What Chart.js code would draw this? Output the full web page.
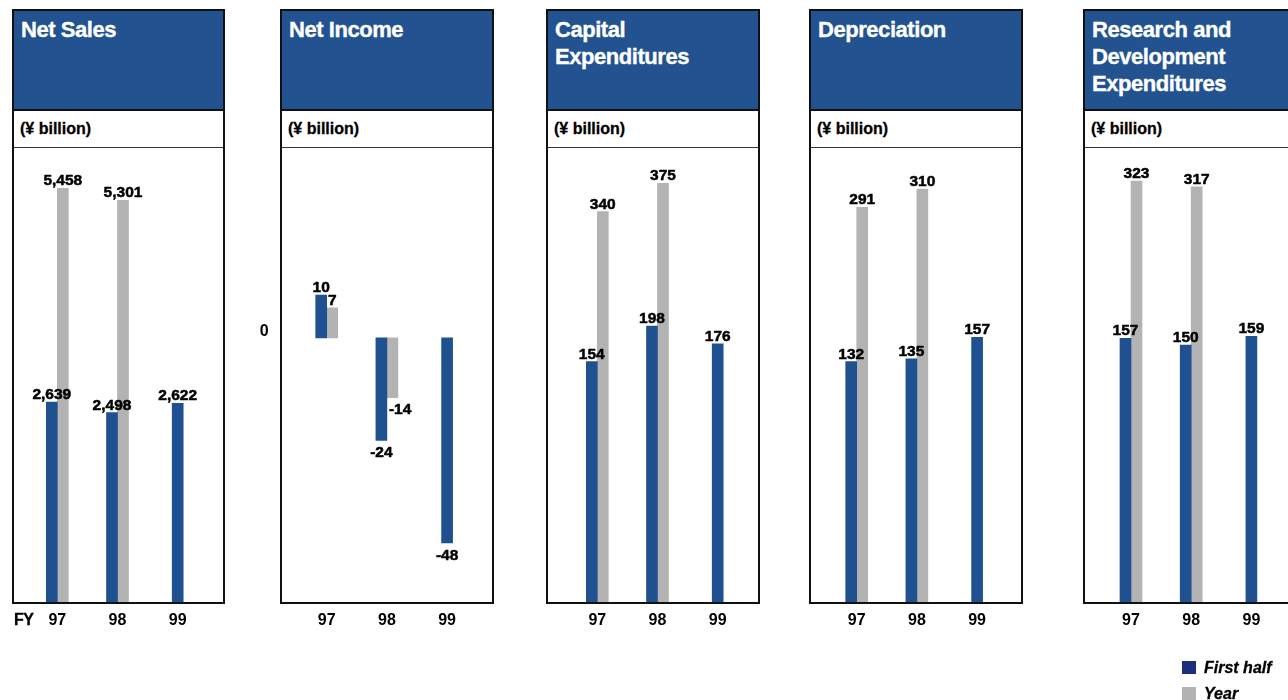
<!DOCTYPE html>
<html>
<head>
<meta charset="utf-8">
<script src="https://cdn.jsdelivr.net/npm/chart.js@4.4.1/dist/chart.umd.min.js"></script>
<style>
html,body{margin:0;padding:0;background:#fff;width:1288px;height:700px;overflow:hidden;position:relative;font-family:"Liberation Sans",Arial,sans-serif;}
.panel{position:absolute;top:9px;height:595px;box-sizing:border-box;border:2px solid #111;background:#fff;}
.head{height:93px;padding:5px 0 0 7px;background:#22528f;color:#fff;font-weight:bold;font-size:22px;letter-spacing:-0.45px;line-height:27px;border-bottom:2px solid #111;white-space:nowrap;overflow:hidden;-webkit-text-stroke:0.35px #fff;}
.sub{height:36px;line-height:36px;padding-left:6px;font-weight:bold;font-size:16px;color:#000;border-bottom:1px solid #333;-webkit-text-stroke:0.3px #000;}
.cv{position:absolute;top:148px;}
#fy{position:absolute;left:14px;top:610px;line-height:20px;font-weight:bold;font-size:16px;color:#000;letter-spacing:-0.5px;-webkit-text-stroke:0.3px #000;}
.leg{position:absolute;left:1182px;font-weight:bold;font-style:italic;font-size:16px;color:#000;line-height:20px;-webkit-text-stroke:0.3px #000;}
.leg span{position:absolute;left:0;top:3px;width:14px;height:13px;}
.leg b{position:absolute;left:22px;top:0;white-space:nowrap;}
</style>
</head>
<body>
<div id="root"></div>
<div id="fy">FY</div>
<div class="leg" style="top:658px"><span style="background:#1b2f7e"></span><b id="lg0"></b></div>
<div class="leg" style="top:684px"><span style="background:#b3b3b3"></span><b id="lg1"></b></div>
<script>
// ---- data ----
const fiscalYears = ['97', '98', '99'];
const seriesNames = ['First half', 'Year'];
const unitLabel = '(¥ billion)';
const panelTitles = ['Net Sales', 'Net Income', 'Capital<br>Expenditures', 'Depreciation', 'Research and<br>Development<br>Expenditures'];
const netSalesFirstHalf = [2639, 2498, 2622];
const netSalesYear = [5458, 5301, null];
const netIncomeFirstHalf = [10, -24, -48];
const netIncomeYear = [7, -14, null];
const capexFirstHalf = [154, 198, 176];
const capexYear = [340, 375, null];
const depreciationFirstHalf = [132, 135, 157];
const depreciationYear = [291, 310, null];
const rdFirstHalf = [157, 150, 159];
const rdYear = [323, 317, null];
const netIncomeYTicks = [0];

// ---- styling / layout ----
const BLUE = '#1f5191';
const GRAY = '#b3b3b3';
const FONT = '"Liberation Sans", Arial, sans-serif';
const panels = [
  {left: 12,   width: 213, c0: 57.3,  first: netSalesFirstHalf,     year: netSalesYear,     min: 0,      max: 5990,  base: undefined, yAxis: false},
  {left: 280,  width: 214, c0: 326.7, first: netIncomeFirstHalf,    year: netIncomeYear,    min: -61.8,  max: 44.4,  base: undefined, yAxis: true},
  {left: 546,  width: 214, c0: 597.3, first: capexFirstHalf,        year: capexYear,        min: -143.9, max: 418.7, base: -143.9,    yAxis: false},
  {left: 809,  width: 214, c0: 856.7, first: depreciationFirstHalf, year: depreciationYear, min: -115.8, max: 352.3, base: -115.8,    yAxis: false},
  {left: 1083, width: 214, c0: 1131,  first: rdFirstHalf,           year: rdYear,           min: -121.3, max: 357.9, base: -121.3,    yAxis: false}
];
const SPACING = 60.2;
const CW = 280, CH = 500, YW = 50;

document.getElementById('lg0').textContent = seriesNames[0];
document.getElementById('lg1').textContent = seriesNames[1];

const labelPlugin = {
  id: 'valueLabels',
  afterDatasetsDraw(chart) {
    const ctx = chart.ctx;
    ctx.save();
    ctx.font = 'bold 15.5px ' + FONT;
    ctx.fillStyle = '#000';
    ctx.strokeStyle = '#000';
    ctx.lineWidth = 0.5;
    ctx.lineJoin = 'round';
    const put = (t, x, y) => { ctx.fillText(t, x, y); ctx.strokeText(t, x, y); };
    chart.data.datasets.forEach((ds, di) => {
      const meta = chart.getDatasetMeta(di);
      meta.data.forEach((el, i) => {
        const v = ds.data[i];
        if (v === null || v === undefined) return;
        const txt = v.toLocaleString('en-US');
        ctx.textBaseline = 'alphabetic';
        if (v >= 0) {
          ctx.textAlign = 'center';
          put(txt, el.x, el.y - 3);
        } else if (di === 1) {
          ctx.textAlign = 'left';
          put(txt, el.x - el.width / 2 + 2, el.y + 16);
        } else {
          ctx.textAlign = 'center';
          put(txt, el.x, el.y + 17);
        }
      });
    });
    ctx.restore();
  }
};

const root = document.getElementById('root');
panels.forEach((p, idx) => {
  const d = document.createElement('div');
  d.className = 'panel';
  d.style.left = p.left + 'px';
  d.style.width = p.width + 'px';
  d.innerHTML = '<div class="head">' + panelTitles[idx] + '</div><div class="sub">' + unitLabel + '</div>';
  root.appendChild(d);

  const cLeft = p.left - 40;
  const cv = document.createElement('canvas');
  cv.className = 'cv';
  cv.width = CW; cv.height = CH;
  cv.style.left = cLeft + 'px';
  cv.style.width = CW + 'px'; cv.style.height = CH + 'px';
  root.appendChild(cv);

  const areaLeft = p.c0 - SPACING / 2;
  const areaRight = areaLeft + SPACING * 3;
  const yw = p.yAxis ? YW : 0;
  const padL = areaLeft - cLeft - yw;
  const padR = cLeft + CW - areaRight;

  new Chart(cv.getContext('2d'), {
    type: 'bar',
    data: {
      labels: fiscalYears,
      datasets: [
        {label: seriesNames[0], data: p.first, backgroundColor: BLUE, barThickness: 11, skipNull: true, base: p.base},
        {label: seriesNames[1], data: p.year, backgroundColor: GRAY, barThickness: 11, skipNull: true, base: p.base}
      ]
    },
    options: {
      responsive: false,
      animation: false,
      events: [],
      layout: {padding: {left: padL, right: padR, top: 0, bottom: 0}},
      plugins: {legend: {display: false}, tooltip: {enabled: false}},
      scales: {
        x: {
          grid: {display: false, drawTicks: false},
          border: {display: false},
          ticks: {font: {size: 16, weight: 'bold', family: FONT}, color: '#000', padding: 9, maxRotation: 0},
          afterFit(s) { s.height = 46; s.paddingLeft = 0; s.paddingRight = 0; }
        },
        y: {
          display: p.yAxis,
          min: p.min,
          max: p.max,
          grid: {display: false, drawTicks: false},
          border: {display: false},
          ticks: {font: {size: 16, weight: 'bold', family: FONT}, color: '#000', padding: 28, labelOffset: -6},
          afterBuildTicks(s) { s.ticks = netIncomeYTicks.map(v => ({value: v})); },
          afterFit(s) { s.width = yw; s.paddingTop = 0; s.paddingBottom = 0; }
        }
      }
    },
    plugins: [labelPlugin]
  });
});
</script>
</body>
</html>
